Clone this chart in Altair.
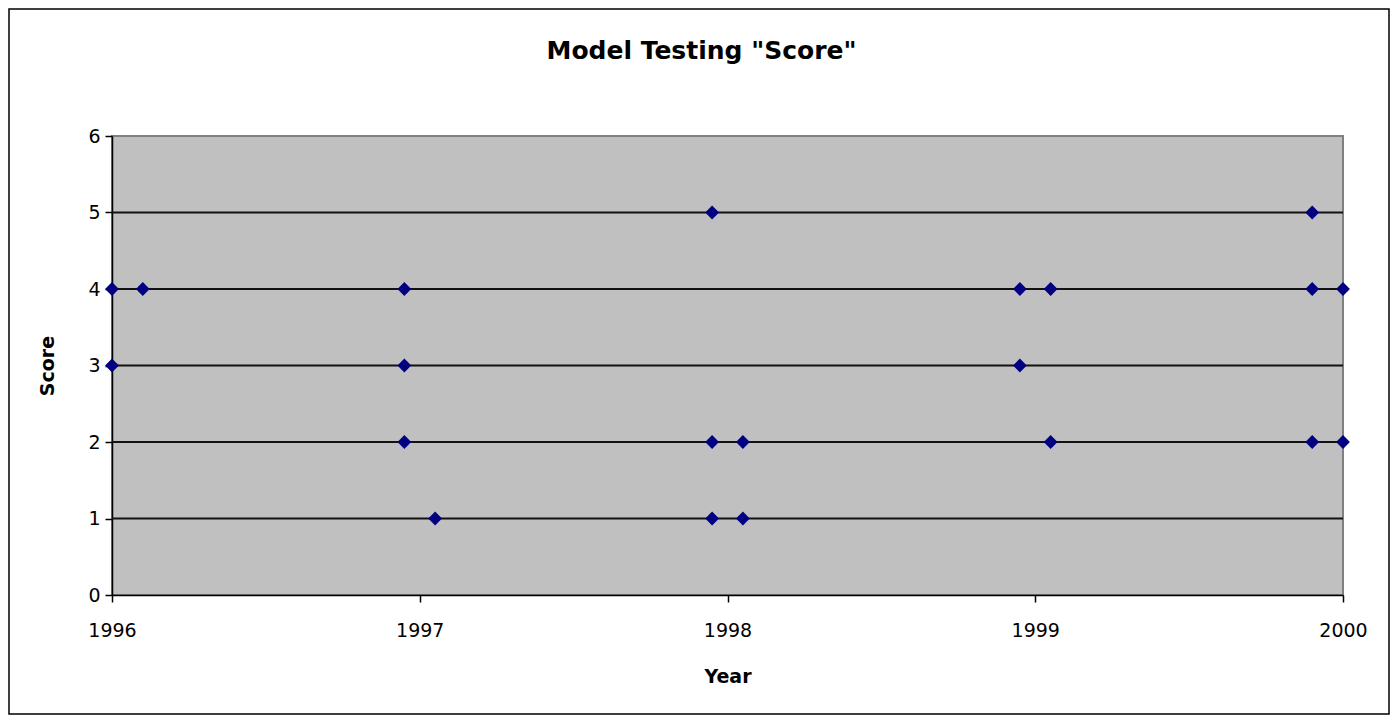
import altair as alt
import pandas as pd

# Data
years = [1996.0, 1996.1, 1996.95, 1996.0, 1996.95, 1996.95, 1997.05, 1997.95, 1997.95,
         1998.05, 1997.95, 1998.05, 1998.95, 1999.05, 1998.95, 1999.05, 1999.9, 1999.9,
         2000.0, 1999.9, 2000.0]
scores = [4, 4, 4, 3, 3, 2, 1, 5, 2, 2, 1, 1, 4, 4, 3, 2, 5, 4, 4, 2, 2]
grid_scores = [1, 2, 3, 4, 5]
x_ticks = [1996, 1997, 1998, 1999, 2000]
y_ticks = [0, 1, 2, 3, 4, 5, 6]

pts = pd.DataFrame({"year": years, "score": scores})
grid = pd.DataFrame({"score": grid_scores})

FONT = "DejaVu Sans"

x_scale = alt.Scale(domain=[1996, 2000], nice=False, zero=False)
y_scale = alt.Scale(domain=[0, 6], nice=False)

x_axis = alt.Axis(
    values=x_ticks, format="d", grid=False, title="Year",
    domainColor="black", domainWidth=1.5, tickColor="black", tickWidth=1.5,
    tickSize=7, labelPadding=19, labelFont=FONT, labelFontSize=19,
    labelColor="black", labelFlush=False, labelOverlap=False,
    titleFont=FONT, titleFontSize=19, titleFontWeight="bold", titleColor="black",
    titleY=72, titleBaseline="top",
)
y_axis = alt.Axis(
    values=y_ticks, format="d", grid=False, title="Score",
    domainColor="black", domainWidth=1.5, tickColor="black", tickWidth=1.5,
    tickSize=7, labelPadding=5, labelFont=FONT, labelFontSize=19,
    labelColor="black", labelFlush=False,
    titleFont=FONT, titleFontSize=19, titleFontWeight="bold", titleColor="black",
    titleX=-65, titleBaseline="middle", titleAngle=270,
)

border = alt.Chart(alt.Data(values=[{"a": 1}])).mark_rect(
    fill=None, stroke="black", strokeWidth=1.5, clip=False
).encode(
    x=alt.value(-103), x2=alt.value(1277), y=alt.value(-127), y2=alt.value(578)
)

rules = alt.Chart(grid).mark_rule(color="#111111", strokeWidth=2).encode(
    y=alt.Y("score:Q", scale=y_scale, axis=y_axis)
)

points = alt.Chart(pts).mark_point(
    shape="diamond", filled=True, color="#000080", size=190, opacity=1
).encode(
    x=alt.X("year:Q", scale=x_scale, axis=x_axis),
    y=alt.Y("score:Q", scale=y_scale, axis=y_axis),
)

chart = alt.layer(border, rules, points).properties(
    width=1231,
    height=459,
    title=alt.TitleParams(
        text='Model Testing "Score"', font=FONT, fontSize=25, fontWeight="bold",
        color="black", anchor="middle", dx=-26, offset=-56,
    ),
    autosize=alt.AutoSizeParams(type="none"),
    padding={"left": 104, "top": 128, "right": 48, "bottom": 120},
    background="white",
).configure_view(
    fill="#C0C0C0", stroke="#808080", strokeWidth=2
)

chart.save("out.html", embed_options={"renderer": "svg", "actions": False})
